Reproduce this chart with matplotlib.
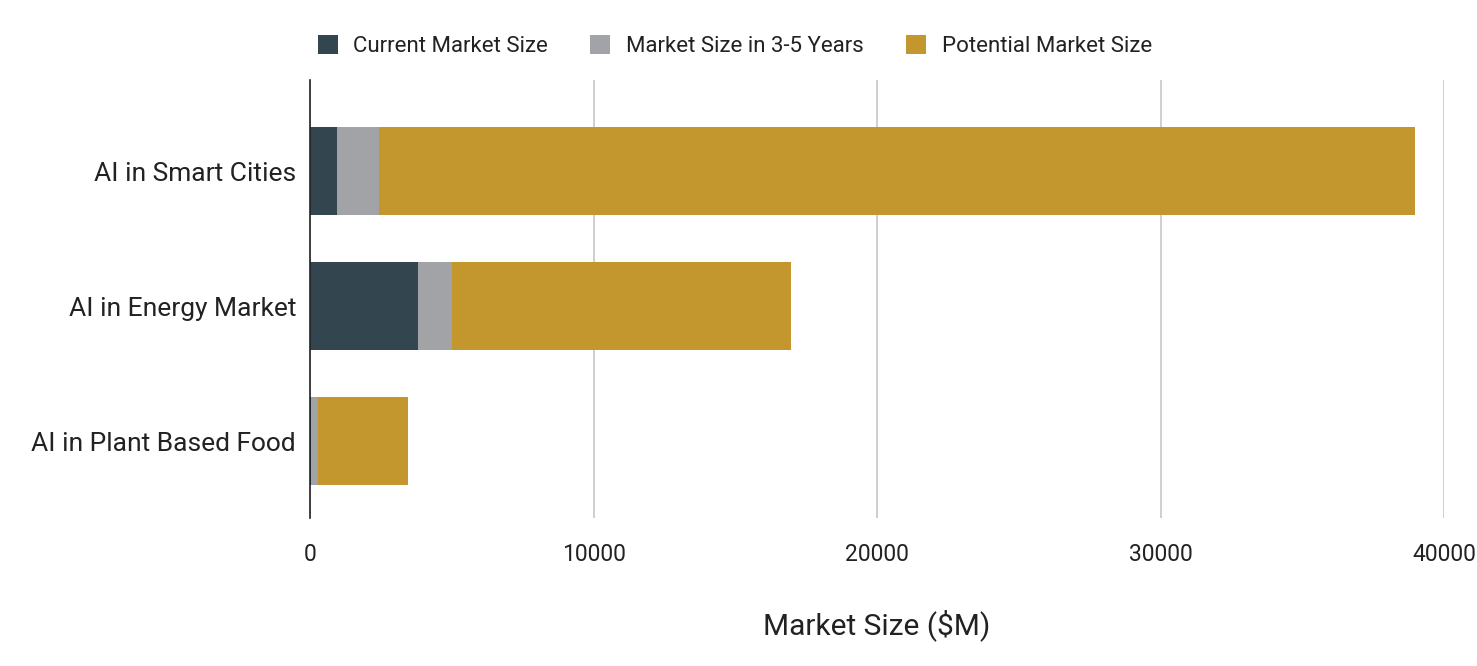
import matplotlib.pyplot as plt
import numpy as np

plt.rcParams['font.family'] = ['Roboto', 'DejaVu Sans']

# values ($M), stacked left to right
categories = ['AI in Smart Cities', 'AI in Energy Market', 'AI in Plant Based Food']
current = [950, 3800, 30]
in_3_5_years = [1480, 1200, 260]
potential = [36550, 11950, 3170]
series_names = ['Current Market Size', 'Market Size in 3-5 Years', 'Potential Market Size']
colors = ['#334650', '#a2a3a7', '#c4962e']
xticks = [0, 10000, 20000, 30000, 40000]

fig = plt.figure(figsize=(14.77, 6.66), dpi=100)
ax = fig.add_axes([310 / 1477, 1 - 518 / 666, (1444 - 310) / 1477, (518 - 80) / 666])

y = np.arange(len(categories))
left = np.zeros(len(categories))
for name, vals, c in zip(series_names, [current, in_3_5_years, potential], colors):
    ax.barh(y, vals, left=left, height=0.645, color=c, label=name, zorder=3)
    left += np.array(vals)

ax.set_xlim(0, 40000)
ax.set_ylim(2.57, -0.674)
ax.set_xticks(xticks)
ax.set_xticklabels([str(t) for t in xticks], fontsize=16.5, color='#222222')
ax.set_yticks(y)
ax.set_yticklabels(categories, fontsize=19, color='#222222')
ax.tick_params(axis='x', length=0, pad=18)
ax.tick_params(axis='y', length=0, pad=10)
ax.grid(axis='x', color='#cccccc', linewidth=1.3, zorder=0)
for s in ['top', 'right', 'bottom']:
    ax.spines[s].set_visible(False)
ax.spines['left'].set_color('#222222')
ax.spines['left'].set_linewidth(1.2)
ax.spines['left'].set_zorder(4)

ax.set_xlabel('Market Size ($M)', fontsize=21.5, color='#222222', labelpad=31)

fig.legend(loc='center', bbox_to_anchor=(0.4975, 1 - 46 / 666), ncol=3, frameon=False,
           fontsize=16, handlelength=0.9, handleheight=0.9, columnspacing=1.9,
           handletextpad=0.7, labelcolor='#222222')

fig.savefig('out.png', dpi=100, facecolor='white')
